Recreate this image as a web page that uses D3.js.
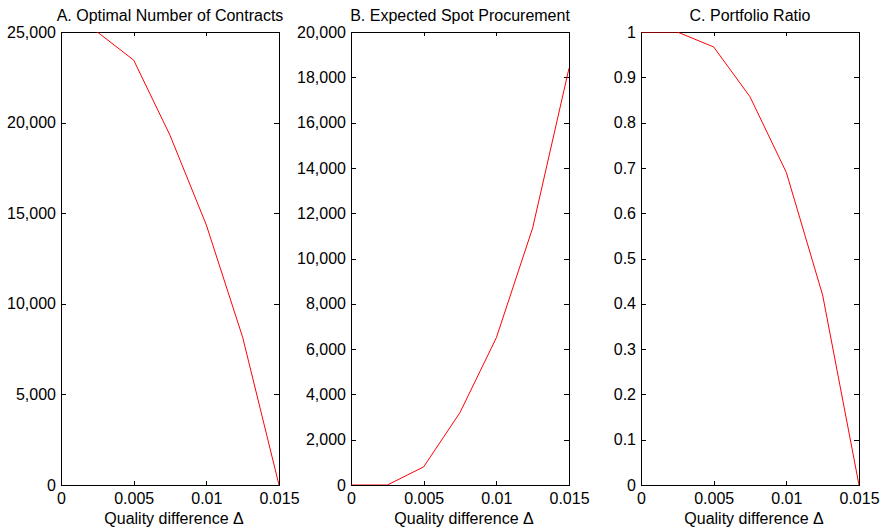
<!DOCTYPE html>
<html>
<head>
<meta charset="utf-8">
<script src="https://cdn.jsdelivr.net/npm/d3@7"></script>
<style>
  body { margin: 0; background: #fff; }
  svg text { font-family: "Liberation Sans", Arial, Helvetica, sans-serif; fill: #000; }
</style>
</head>
<body>
<div id="chart"></div>
<script>
// quality difference values on the x axis
const deltas = [0, 0.0025, 0.005, 0.0075, 0.01, 0.0125, 0.015];

// series
const contracts = [25600, 25000, 23450, 19300, 14350, 8150, 0];
const spotProcurement = [0, 0, 800, 3200, 6500, 11350, 18400];
const portfolioRatio = [1, 1, 0.967, 0.857, 0.69, 0.419, 0];

const panelTitles = ["A. Optimal Number of Contracts", "B. Expected Spot Procurement", "C. Portfolio Ratio"];
const xLabel = "Quality difference \u0394";

const xTicks = [0, 0.005, 0.01, 0.015];
const xTickLabels = ["0", "0.005", "0.01", "0.015"];
const yTicksA = [0, 5000, 10000, 15000, 20000, 25000];
const yTicksB = [0, 2000, 4000, 6000, 8000, 10000, 12000, 14000, 16000, 18000, 20000];
const yTicksC = [0, 0.1, 0.2, 0.3, 0.4, 0.5, 0.6, 0.7, 0.8, 0.9, 1];
const yTickLabelsC = ["0", "0.1", "0.2", "0.3", "0.4", "0.5", "0.6", "0.7", "0.8", "0.9", "1"];

const width = 881, height = 530;
const plotTop = 32, plotH = 453, plotW = 218;
const lefts = [61, 351, 641];

const svg = d3.select("#chart").append("svg")
    .attr("width", width)
    .attr("height", height);

const panels = [
    { title: panelTitles[0], values: contracts, yMax: 25000, ticks: yTicksA, fmt: d3.format(",") },
    { title: panelTitles[1], values: spotProcurement, yMax: 20000, ticks: yTicksB, fmt: d3.format(",") },
    { title: panelTitles[2], values: portfolioRatio, yMax: 1, ticks: yTicksC, fmt: (d, i) => yTickLabelsC[i] }
];

panels.forEach(function (p, k) {
    let g = svg.append("g")
        .attr("transform", "translate(" + lefts[k] + "," + plotTop + ")");

    let xScale = d3.scaleLinear().domain([0, 0.015]).range([0, plotW]);
    let yScale = d3.scaleLinear().domain([0, p.yMax]).range([plotH, 0]);

    g.append("clipPath")
        .attr("id", "clip" + k)
      .append("rect")
        .attr("width", plotW)
        .attr("height", plotH);

    // axes, ticks pointing inward like matlab
    g.append("g")
        .attr("transform", "translate(0," + plotH + ")")
        .call(d3.axisBottom(xScale).tickValues(xTicks).tickFormat((d, i) => xTickLabels[i])
            .tickSizeInner(-4).tickSizeOuter(0).tickPadding(8));
    g.append("g")
        .call(d3.axisTop(xScale).tickValues(xTicks).tickFormat("")
            .tickSizeInner(-4).tickSizeOuter(0));
    g.append("g")
        .call(d3.axisLeft(yScale).tickValues(p.ticks).tickFormat(p.fmt)
            .tickSizeInner(-5).tickSizeOuter(0).tickPadding(5));
    g.append("g")
        .attr("transform", "translate(" + plotW + ",0)")
        .call(d3.axisRight(yScale).tickValues(p.ticks).tickFormat("")
            .tickSizeInner(-5).tickSizeOuter(0));

    g.selectAll(".domain").remove();
    g.selectAll(".tick line").attr("stroke", "#000").attr("shape-rendering", "crispEdges");
    g.selectAll(".tick text").attr("font-size", 16).attr("fill", "#000")
        .style("font-family", "'Liberation Sans', Arial, sans-serif");

    // box
    g.append("rect")
        .attr("x", 0)
        .attr("y", 0)
        .attr("width", plotW)
        .attr("height", plotH)
        .attr("fill", "none")
        .attr("stroke", "#000")
        .attr("stroke-width", 1)
        .attr("shape-rendering", "crispEdges");

    // data line, drawn over the box
    let line = d3.line()
        .x((d, i) => xScale(deltas[i]))
        .y(d => yScale(d));

    g.append("path")
        .datum(p.values)
        .attr("clip-path", "url(#clip" + k + ")")
        .attr("fill", "none")
        .attr("stroke", "#ff0000")
        .attr("stroke-width", 1)
        .attr("d", line);

    // title
    g.append("text")
        .attr("x", plotW / 2)
        .attr("y", 21 - plotTop)
        .attr("text-anchor", "middle")
        .attr("font-size", 16)
        .text(p.title);

    // x label
    g.append("text")
        .attr("x", plotW / 2 + 4)
        .attr("y", 524 - plotTop)
        .attr("text-anchor", "middle")
        .attr("font-size", 16)
        .text(xLabel);
});
</script>
</body>
</html>
